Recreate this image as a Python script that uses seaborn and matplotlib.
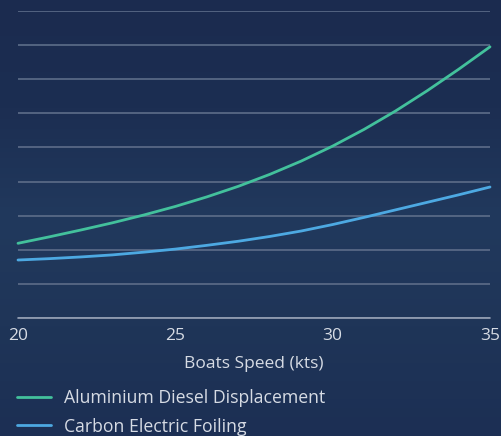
import numpy as np
import pandas as pd
import matplotlib.pyplot as plt
import seaborn as sns
from matplotlib.colors import LinearSegmentedColormap

speed = [20, 21, 22, 23, 24, 25, 26, 27, 28, 29, 30, 31, 32, 33, 34, 35]
aluminium_diesel = [2.19, 2.38, 2.58, 2.79, 3.02, 3.27, 3.55, 3.86, 4.21, 4.60,
                    5.04, 5.53, 6.07, 6.66, 7.29, 7.95]
carbon_electric = [1.70, 1.74, 1.79, 1.85, 1.93, 2.02, 2.13, 2.25, 2.39, 2.55,
                   2.74, 2.95, 3.17, 3.39, 3.61, 3.84]
series_names = ["Aluminium Diesel Displacement", "Carbon Electric Foiling"]
x_ticks = [20, 25, 30, 35]

df = pd.concat([
    pd.DataFrame({"speed": speed, "value": aluminium_diesel, "series": series_names[0]}),
    pd.DataFrame({"speed": speed, "value": carbon_electric, "series": series_names[1]}),
])

BG = "#1b2b4f"
TEXT = "#d6dbe4"
palette = {series_names[0]: "#43c19c", series_names[1]: "#4da9e2"}

sns.set_style("white")
plt.rcParams["font.family"] = ["Open Sans", "DejaVu Sans"]

fig = plt.figure(figsize=(5.02, 4.36), dpi=100)
fig.patch.set_facecolor(BG)

# subtle background gradient
bg_ax = fig.add_axes([0, 0, 1, 1], zorder=0)
grad = np.linspace(0, 1, 256).reshape(-1, 1)
cmap = LinearSegmentedColormap.from_list("bg", ["#1b2b4f", "#1c2e52", "#21395d", "#1f3558", "#1c2f54"])
bg_ax.imshow(grad, aspect="auto", cmap=cmap, extent=[0, 1, 0, 1])
bg_ax.axis("off")

ax = fig.add_axes([18 / 502, 1 - 318 / 436, 472 / 502, 307 / 436], zorder=1)
ax.set_facecolor("none")

sns.lineplot(data=df, x="speed", y="value", hue="series", palette=palette,
             linewidth=2, ax=ax, legend=False)

ax.set_xlim(20, 35)
ax.set_ylim(0, 9)
ax.set_yticks(range(0, 10))
ax.set_yticklabels([])
ax.set_xticks(x_ticks)
ax.set_xticklabels([str(t) for t in x_ticks], color=TEXT, fontsize=12.5)
ax.tick_params(axis="both", length=0)
ax.tick_params(axis="x", pad=7)
ax.grid(axis="y", color="#5d6d89", linewidth=1.2)
ax.grid(axis="x", visible=False)
for s in ax.spines.values():
    s.set_visible(False)
ax.axhline(0, color="#9aa4b8", linewidth=1.2)
ax.set_xlabel("Boats Speed (kts)", color=TEXT, fontsize=12.5, labelpad=9)
ax.set_ylabel("")
for line in ax.get_lines():
    line.set_clip_on(False)

# legend drawn below
handles = [plt.Line2D([0], [0], color=palette[n], linewidth=2) for n in series_names]
fig.legend(handles, series_names, loc="upper left", bbox_to_anchor=(0.02, 1 - 382 / 436),
           frameon=False, fontsize=12.7, labelcolor=TEXT, handlelength=1.9,
           handletextpad=0.75, labelspacing=0.6, borderaxespad=0)

fig.savefig("out.png", dpi=100, facecolor=BG)
